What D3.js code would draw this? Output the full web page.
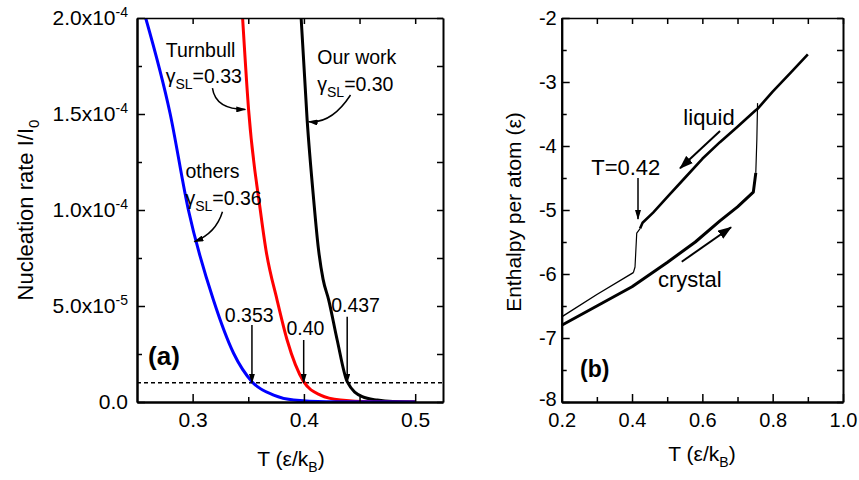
<!DOCTYPE html>
<html>
<head>
<meta charset="utf-8">
<script src="https://cdn.jsdelivr.net/npm/d3@7"></script>
<style>
  body { margin: 0; background: #fff; }
  svg text { font-family: "Liberation Sans", Arial, Helvetica, sans-serif; }
</style>
</head>
<body>
<script>
// ---------- panel (a): nucleation rate I/I0 vs T ----------
var tBlue     = [0.2578, 0.2797, 0.2962, 0.3187, 0.3368, 0.3533, 0.3728, 0.3908, 0.42, 0.5];
var rateBlue  = [2.0e-4, 1.504e-4, 1.0e-4, 0.531e-4, 0.254e-4, 0.106e-4, 0.036e-4, 0.010e-4, 0.001e-4, 0];
var tRed      = [0.3449, 0.3503, 0.3608, 0.3659, 0.3759, 0.3849, 0.3998, 0.4149, 0.4329, 0.46, 0.5];
var rateRed   = [2.0e-4, 1.521e-4, 1.0e-4, 0.792e-4, 0.531e-4, 0.323e-4, 0.106e-4, 0.036e-4, 0.010e-4, 0.001e-4, 0];
var tBlack    = [0.3975, 0.4029, 0.4088, 0.4130, 0.4172, 0.4223, 0.4299, 0.4389, 0.4524, 0.4659, 0.48, 0.5];
var rateBlack = [2.0e-4, 1.469e-4, 1.052e-4, 0.80e-4, 0.64e-4, 0.531e-4, 0.323e-4, 0.106e-4, 0.028e-4, 0.010e-4, 0.002e-4, 0];
var threshold = 1e-5;

// crossings of the threshold, label text and where the labels/arrows sit
var crossT      = [0.3533, 0.3998, 0.4389];
var crossLabel  = ["0.353", "0.40", "0.437"];
var crossLabelT = [0.3509, 0.4014, 0.4464];
var crossLabelV = [0.418e-4, 0.349e-4, 0.47e-4];
var crossTop    = [0.401e-4, 0.323e-4, 0.444e-4];

var aXTicks = [0.3, 0.4, 0.5], aXMinor = [0.35, 0.45];
var aYTicks = [0, 5e-5, 1e-4, 1.5e-4, 2e-4], aYMinor = [2.5e-5, 7.5e-5, 1.25e-4, 1.75e-4];

// ---------- panel (b): enthalpy per atom vs T ----------
var crystalT = [0.2, 0.3, 0.4, 0.5, 0.58, 0.65, 0.7, 0.745, 0.752];
var crystalH = [-6.8, -6.5, -6.2, -5.82, -5.5, -5.17, -4.95, -4.72, -4.42];
var meltT    = [0.752, 0.755, 0.757];
var meltH    = [-4.42, -3.9, -3.33];
var liquidT  = [0.9, 0.85, 0.8, 0.757, 0.75, 0.7, 0.65, 0.6, 0.55, 0.5, 0.46, 0.43, 0.4228];
var liquidH  = [-2.57, -2.86, -3.15, -3.42, -3.45, -3.70, -3.94, -4.2, -4.5, -4.8, -5.04, -5.2, -5.29];
var freezeT  = [0.4228, 0.4134, 0.4085, 0.4037];
var freezeH  = [-5.29, -5.36, -5.89, -5.98];
var solidT   = [0.4037, 0.3, 0.2];
var solidH   = [-5.98, -6.32, -6.67];

var bXTicks = [0.2, 0.4, 0.6, 0.8, 1.0], bXMinor = [0.3, 0.5, 0.7, 0.9];
var bYTicks = [-8, -7, -6, -5, -4, -3, -2], bYMinor = [-7.5, -6.5, -5.5, -4.5, -3.5, -2.5];

var FONT = "'Liberation Sans', Arial, Helvetica, sans-serif";

var svg = d3.select("body").append("svg")
    .attr("width", 859)
    .attr("height", 480);

// arrow heads
var defs = svg.append("defs");
defs.append("marker").attr("id", "head")
    .attr("viewBox", "0 0 10 6").attr("refX", 9).attr("refY", 3)
    .attr("markerWidth", 10).attr("markerHeight", 6)
    .attr("markerUnits", "userSpaceOnUse").attr("orient", "auto")
  .append("path").attr("d", "M0,0L10,3L0,6Z").attr("fill", "#000");
defs.append("marker").attr("id", "bighead")
    .attr("viewBox", "0 0 14 10").attr("refX", 13).attr("refY", 5)
    .attr("markerWidth", 14).attr("markerHeight", 10)
    .attr("markerUnits", "userSpaceOnUse").attr("orient", "auto")
  .append("path").attr("d", "M0,0L14,5L0,10Z").attr("fill", "#000");

// draws a boxed frame with inward ticks on all 4 sides
function frame(g, x, y, w, h, xt, xm, yt, ym, xFmt, yFmt, xPad, yPad, fs) {
    function style(sel, sw) {
        sel.attr("font-size", fs).attr("font-family", FONT);
        sel.selectAll("line").attr("stroke-width", 1.5);
        sel.select(".domain").attr("stroke-width", sw);
    }
    g.append("g").attr("transform", "translate(0," + h + ")")
        .call(d3.axisBottom(x).tickValues(xt).tickSize(-8).tickSizeOuter(0).tickPadding(xPad).tickFormat(xFmt))
        .call(style, 2);
    g.append("g").attr("transform", "translate(0," + h + ")")
        .call(d3.axisBottom(x).tickValues(xm).tickSize(-5).tickSizeOuter(0).tickFormat(""))
        .call(style, 2);
    g.append("g")
        .call(d3.axisTop(x).tickValues(xt.concat(xm)).tickSize(-6).tickSizeOuter(0).tickFormat(""))
        .call(style, 1.5);
    var yl = g.append("g")
        .call(d3.axisLeft(y).tickValues(yt).tickSize(-8).tickSizeOuter(0).tickPadding(yPad).tickFormat(yFmt))
        .call(style, 2);
    g.append("g")
        .call(d3.axisLeft(y).tickValues(ym).tickSize(-5).tickSizeOuter(0).tickFormat(""))
        .call(style, 2);
    g.append("g").attr("transform", "translate(" + w + ",0)")
        .call(d3.axisRight(y).tickValues(yt.concat(ym)).tickSize(-6).tickSizeOuter(0).tickFormat(""))
        .call(style, 2);
    return yl;
}

function series(xs, ys) {
    return d3.range(xs.length).map(function (i) { return [xs[i], ys[i]]; });
}

// ================= panel (a) =================
var aW = 306, aH = 384;
var ga = svg.append("g").attr("transform", "translate(137,18)");
var xA = d3.scaleLinear().domain([0.25, 0.525]).range([0, aW]);
var yA = d3.scaleLinear().domain([0, 2e-4]).range([aH, 0]);

defs.append("clipPath").attr("id", "clipA")
  .append("rect").attr("width", aW).attr("height", aH);

var lineA = d3.line()
    .x(function (d) { return xA(d[0]); })
    .y(function (d) { return yA(d[1]); })
    .curve(d3.curveMonotoneX);

// dashed threshold
ga.append("line")
    .attr("x1", 0).attr("x2", aW)
    .attr("y1", yA(threshold)).attr("y2", yA(threshold))
    .attr("stroke", "#000").attr("stroke-width", 1.5)
    .attr("stroke-dasharray", "4,3");

var curves = [[tBlack, rateBlack, "#000"], [tRed, rateRed, "#ff0000"], [tBlue, rateBlue, "#0000ff"]];
curves.forEach(function (c) {
    ga.append("path")
        .attr("clip-path", "url(#clipA)")
        .attr("d", lineA(series(c[0], c[1])))
        .attr("fill", "none")
        .attr("stroke", c[2])
        .attr("stroke-width", 3);
});

var yAxisA = frame(ga, xA, yA, aW, aH, aXTicks, aXMinor, aYTicks, aYMinor,
    d3.format(".1f"), function (d) { return d; }, 10, 9, 21);

// labels like 5.0x10^-5
yAxisA.selectAll(".tick text").each(function (d) {
    var t = d3.select(this);
    if (d === 0) { t.text("0.0"); return; }
    var e = Math.floor(Math.log10(d) + 1e-9);
    var m = d / Math.pow(10, e);
    t.text(null);
    t.append("tspan").text(m.toFixed(1) + "x10");
    t.append("tspan").attr("font-size", 14).attr("dy", -8).text(String(e));
});

// gamma annotations
var gammaNotes = [
    {name: "Turnbull", t: 0.2758, v: 1.798e-4, g: "=0.33", gv: 1.66e-4},
    {name: "others",   t: 0.2935, v: 1.165e-4, g: "=0.36", gv: 1.026e-4},
    {name: "Our work", t: 0.4120, v: 1.76e-4,  g: "=0.30", gv: 1.62e-4}
];
gammaNotes.forEach(function (n) {
    ga.append("text").attr("x", xA(n.t)).attr("y", yA(n.v))
        .attr("font-size", 19.5).text(n.name);
    var tx = ga.append("text").attr("x", xA(n.t)).attr("y", yA(n.gv)).attr("font-size", 19.5);
    tx.append("tspan").text("\u03b3");
    tx.append("tspan").attr("font-size", 14).attr("dy", 6).text("SL");
    tx.append("tspan").attr("dy", -6).text(n.g);
});

// curved arrows: start, control, end (data units)
var curvedArrows = [
    [[0.3178, 1.635e-4], [0.3206, 1.524e-4], [0.3473, 1.524e-4]],
    [[0.3268, 0.991e-4], [0.3209, 0.879e-4], [0.3016, 0.835e-4]],
    [[0.4419, 1.599e-4], [0.4248, 1.448e-4], [0.4043, 1.46e-4]]
];
curvedArrows.forEach(function (a) {
    var p = d3.path();
    p.moveTo(xA(a[0][0]), yA(a[0][1]));
    p.quadraticCurveTo(xA(a[1][0]), yA(a[1][1]), xA(a[2][0]), yA(a[2][1]));
    ga.append("path").attr("d", p.toString())
        .attr("fill", "none").attr("stroke", "#000").attr("stroke-width", 1.5)
        .attr("marker-end", "url(#head)");
});

// threshold crossings
crossT.forEach(function (t, i) {
    ga.append("line")
        .attr("x1", xA(t)).attr("x2", xA(t))
        .attr("y1", yA(crossTop[i])).attr("y2", yA(threshold))
        .attr("stroke", "#000").attr("stroke-width", 1.5)
        .attr("marker-end", "url(#head)");
    ga.append("text").attr("x", xA(crossLabelT[i])).attr("y", yA(crossLabelV[i]))
        .attr("text-anchor", "middle").attr("font-size", 19.5).text(crossLabel[i]);
});

ga.append("text").attr("x", xA(0.2599)).attr("y", yA(0.193e-4))
    .attr("font-size", 26).attr("font-weight", "bold").text("(a)");

// axis titles (a)
var ytA = svg.append("text").attr("transform", "translate(33,210) rotate(-90)")
    .attr("text-anchor", "middle").attr("font-size", 22);
ytA.append("tspan").text("Nucleation rate I/I");
ytA.append("tspan").attr("font-size", 15).attr("dy", 6).text("0");

var xtA = svg.append("text").attr("x", 291).attr("y", 466)
    .attr("text-anchor", "middle").attr("font-size", 21);
xtA.append("tspan").text("T (\u03b5/k");
xtA.append("tspan").attr("font-size", 14).attr("dy", 6).text("B");
xtA.append("tspan").attr("dy", -6).text(")");

// ================= panel (b) =================
var bW = 281.3, bH = 384;
var gb = svg.append("g").attr("transform", "translate(561.7,18)");
var xB = d3.scaleLinear().domain([0.2, 1.0]).range([0, bW]);
var yB = d3.scaleLinear().domain([-8, -2]).range([bH, 0]);

var lineB = d3.line()
    .x(function (d) { return xB(d[0]); })
    .y(function (d) { return yB(d[1]); });

var traces = [
    [crystalT, crystalH, 3],
    [meltT, meltH, 1.2],
    [liquidT, liquidH, 2.6],
    [freezeT, freezeH, 1.2],
    [solidT, solidH, 1.4]
];
traces.forEach(function (c) {
    gb.append("path")
        .attr("d", lineB(series(c[0], c[1])))
        .attr("fill", "none")
        .attr("stroke", "#000")
        .attr("stroke-width", c[2])
        .attr("stroke-linejoin", "round");
});

var yAxisB = frame(gb, xB, yB, bW, bH, bXTicks, bXMinor, bYTicks, bYMinor,
    d3.format(".1f"), function (d) { return String(d); }, 11, 5, 20);
// lift the bottom label a little so it clears the 0.2 below it
yAxisB.selectAll(".tick text").filter(function (d) { return d === -8; }).attr("y", -3);

// annotations (b)
var bNotes = [
    {text: "liquid",  t: 0.546, h: -3.672},
    {text: "T=0.42",  t: 0.284, h: -4.453},
    {text: "crystal", t: 0.474, h: -6.198}
];
bNotes.forEach(function (n) {
    gb.append("text").attr("x", xB(n.t)).attr("y", yB(n.h))
        .attr("font-size", 22).text(n.text);
});
var bArrows = [
    [[0.6503, -3.766], [0.5366, -4.349], "bighead"],
    [[0.417, -4.5], [0.417, -5.14], "head"],
    [[0.5414, -5.808], [0.6817, -5.27], "bighead"]
];
bArrows.forEach(function (a) {
    gb.append("line")
        .attr("x1", xB(a[0][0])).attr("y1", yB(a[0][1]))
        .attr("x2", xB(a[1][0])).attr("y2", yB(a[1][1]))
        .attr("stroke", "#000").attr("stroke-width", a[2] === "bighead" ? 2 : 1.5)
        .attr("marker-end", "url(#" + a[2] + ")");
});
gb.append("text").attr("x", xB(0.2521)).attr("y", yB(-7.61))
    .attr("font-size", 23).attr("font-weight", "bold").text("(b)");

// axis titles (b)
svg.append("text").attr("transform", "translate(521,212) rotate(-90)")
    .attr("text-anchor", "middle").attr("font-size", 21)
    .text("Enthalpy per atom (\u03b5)");

var xtB = svg.append("text").attr("x", 702).attr("y", 461)
    .attr("text-anchor", "middle").attr("font-size", 21);
xtB.append("tspan").text("T (\u03b5/k");
xtB.append("tspan").attr("font-size", 14).attr("dy", 6).text("B");
xtB.append("tspan").attr("dy", -6).text(")");
</script>
</body>
</html>
